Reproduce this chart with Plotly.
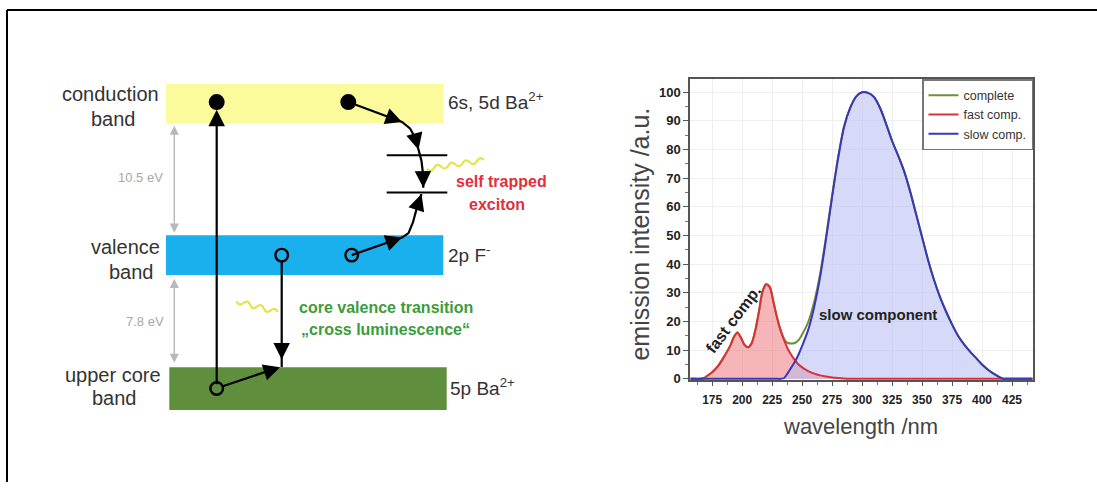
import plotly.graph_objects as go

W, H = 1097, 488

# ---------------- spectrum data ----------------
wavelength = [157, 160, 165, 168, 170, 175, 180, 185, 190, 193, 196, 199, 202, 205, 208,
              211, 214, 217, 220, 223, 226, 229, 232, 235, 238, 241, 244, 247, 250, 255,
              260, 265, 270, 275, 280, 285, 290, 295, 300, 305, 310, 315, 320, 325, 330,
              335, 340, 345, 350, 355, 360, 365, 370, 375, 380, 385, 390, 395, 400, 405,
              410, 415, 418, 420, 425, 430, 435, 442]

fast_comp = [0, 0, 0, 0.2, 0.8, 2.3, 4.5, 7.8, 11.5, 14.5, 16.2, 14.3, 11.8, 11.0, 12.5,
             17.0, 23.5, 30.5, 33.0, 32.0, 27.0, 21.5, 17.0, 13.5, 10.5, 8.3, 6.5, 5.0, 4.0, 2.7,
             1.8, 1.2, 0.8, 0.5, 0.3, 0.15, 0.05, 0, 0, 0, 0, 0, 0, 0, 0,
             0, 0, 0, 0, 0, 0, 0, 0, 0, 0, 0, 0, 0, 0, 0,
             0, 0, 0, 0, 0, 0, 0, 0]

slow_comp = [0, 0, 0, 0, 0, 0, 0, 0, 0, 0, 0, 0, 0, 0, 0,
             0, 0, 0, 0, 0, 0, 0, 0, 0.3, 2.0, 4.0, 6.0, 8.5, 11.5, 17.0,
             25.0, 35.5, 49.0, 63.5, 77.0, 88.0, 94.5, 98.5, 100.0, 99.8, 98.3, 94.5, 89.0, 83.0, 78.0,
             72.5, 65.5, 57.5, 49.5, 41.5, 34.5, 28.5, 23.5, 19.0, 15.0, 12.0, 9.5, 7.3, 5.0, 3.2,
             1.7, 0.5, 0, 0, 0, 0, 0, 0]

complete = [0, 0, 0, 0.2, 0.8, 2.3, 4.5, 7.8, 11.5, 14.5, 16.2, 14.3, 11.8, 11.0, 12.5,
            17.0, 23.5, 30.5, 33.0, 32.0, 27.0, 21.5, 17.0, 13.8, 12.5, 12.3, 12.5, 13.5, 15.5, 19.7,
            26.8, 36.7, 49.8, 64.0, 77.3, 88.15, 94.55, 98.5, 100.0, 99.8, 98.3, 94.5, 89.0, 83.0, 78.0,
            72.5, 65.5, 57.5, 49.5, 41.5, 34.5, 28.5, 23.5, 19.0, 15.0, 12.0, 9.5, 7.3, 5.0, 3.2,
            1.7, 0.5, 0, 0, 0, 0, 0, 0]

x_ticks = [175, 200, 225, 250, 275, 300, 325, 350, 375, 400, 425]
y_ticks = [0, 10, 20, 30, 40, 50, 60, 70, 80, 90, 100]

FONT = "Liberation Sans, Arial, sans-serif"


def fx(x):
    return x / W


def fy(y):
    return 1 - y / H


fig = go.Figure()

# filled areas first, lines on top
fig.add_trace(go.Scatter(x=wavelength, y=fast_comp, mode="lines", fill="tozeroy",
                         fillcolor="rgba(238,110,115,0.5)", line=dict(width=0, shape="spline", smoothing=0.8),
                         showlegend=False, hoverinfo="skip"))
fig.add_trace(go.Scatter(x=wavelength, y=slow_comp, mode="lines", fill="tozeroy",
                         fillcolor="rgba(180,186,240,0.55)", line=dict(width=0, shape="spline", smoothing=0.8),
                         showlegend=False, hoverinfo="skip"))
fig.add_trace(go.Scatter(x=wavelength, y=complete, mode="lines", name="complete",
                         line=dict(color="#6f8f3a", width=2, shape="spline", smoothing=0.8)))
fig.add_trace(go.Scatter(x=wavelength, y=fast_comp, mode="lines", name="fast comp.",
                         line=dict(color="#dc3035", width=2, shape="spline", smoothing=0.8)))
fig.add_trace(go.Scatter(x=wavelength, y=slow_comp, mode="lines", name="slow comp.",
                         line=dict(color="#3838b8", width=2, shape="spline", smoothing=0.8)))

shapes = []
annotations = []

# outer frame: only the top and left edges fall inside the page
shapes.append(dict(type="line", xref="paper", yref="paper", x0=fx(7), x1=fx(7),
                   y0=0, y1=fy(10), line=dict(color="black", width=2)))
shapes.append(dict(type="line", xref="paper", yref="paper", x0=fx(7), x1=1,
                   y0=fy(10), y1=fy(10), line=dict(color="black", width=2)))

# energy bands
shapes.append(dict(type="rect", xref="paper", yref="paper", x0=fx(166), x1=fx(443.3),
                   y0=fy(125), y1=fy(85), line=dict(width=0), fillcolor="#fbfb9c", layer="below"))
shapes.append(dict(type="rect", xref="paper", yref="paper", x0=fx(166), x1=fx(443.3),
                   y0=fy(278.3), y1=fy(238.3), line=dict(width=0), fillcolor="#1ab0ee", layer="below"))
shapes.append(dict(type="rect", xref="paper", yref="paper", x0=fx(169.3), x1=fx(446.7),
                   y0=fy(415), y1=fy(371.7), line=dict(width=0), fillcolor="#5f8f3c", layer="below"))


def line(x0, y0, x1, y1, color="black", width=2.2):
    shapes.append(dict(type="line", xref="paper", yref="paper", x0=fx(x0), y0=fy(y0),
                       x1=fx(x1), y1=fy(y1), line=dict(color=color, width=width)))


def polyline(pts, color="black", width=2.2):
    d = "M " + " L ".join(f"{fx(x)},{fy(y)}" for x, y in pts)
    shapes.append(dict(type="path", xref="paper", yref="paper", path=d,
                       line=dict(color=color, width=width)))


def arrow(tx, ty, hx, hy, color="black", width=2.2, size=1.5, side="end", head=2):
    annotations.append(dict(xref="paper", yref="paper", x=fx(hx), y=fy(hy),
                            ax=tx - hx, ay=ty - hy, text="", showarrow=True,
                            arrowhead=head, arrowsize=size, arrowwidth=width,
                            arrowcolor=color, arrowside=side, startarrowhead=head,
                            startarrowsize=size))


def head_on(p0, p1, **kw):
    dx, dy = p1[0] - p0[0], p1[1] - p0[1]
    n = (dx * dx + dy * dy) ** 0.5
    arrow(p1[0] - 14 * dx / n, p1[1] - 14 * dy / n, p1[0], p1[1], **kw)


def circle(cx, cy, r, filled):
    shapes.append(dict(type="circle", xref="paper", yref="paper",
                       x0=fx(cx - r), x1=fx(cx + r), y0=fy(cy + r), y1=fy(cy - r),
                       line=dict(color="black", width=2.4),
                       fillcolor="black" if filled else "rgba(0,0,0,0)"))


def wave(x0, y0, x1, y1, halves, amp, color="#e4e44a", width=2.2):
    dx, dy = x1 - x0, y1 - y0
    n = (dx * dx + dy * dy) ** 0.5
    px, py = -dy / n, dx / n
    step = 1.0 / halves
    mx, my = x0 + dx * step, y0 + dy * step
    cx = x0 + dx * step / 2 + px * amp * 2
    cy = y0 + dy * step / 2 + py * amp * 2
    d = f"M {fx(x0)},{fy(y0)} Q {fx(cx)},{fy(cy)} {fx(mx)},{fy(my)}"
    for i in range(2, halves + 1):
        d += f" T {fx(x0 + dx * step * i)},{fy(y0 + dy * step * i)}"
    shapes.append(dict(type="path", xref="paper", yref="paper", path=d,
                       line=dict(color=color, width=width)))


# band-gap markers
arrow(174.3, 235.7, 174.3, 127.3, color="#b8b8b8", width=1.4, size=1.3, side="end+start")
arrow(174.3, 367.7, 174.3, 282.3, color="#b8b8b8", width=1.4, size=1.3, side="end+start")

# excitation from core band to conduction band
arrow(216.7, 387, 216.7, 111)
arrow(222, 391, 280, 371.7)
# core valence transition
line(281.7, 265, 281.7, 371.7)
head_on((281.7, 330), (281.7, 364))

# exciton levels
line(386.7, 157.3, 447.3, 157.3, width=2)
line(386.7, 195, 447.3, 195, width=2)

# electron relaxation path
up_path = [(348.3, 103.3), (402, 123.5), (410, 130), (415.5, 140), (418.5, 151.5),
           (421.5, 163), (423, 176), (423.3, 190)]
polyline(up_path)
head_on(up_path[0], up_path[1])
head_on(up_path[3], up_path[4])
head_on(up_path[6], up_path[7])

# hole relaxation path
lo_path = [(351.7, 258.3), (402, 240.5), (408.5, 236), (413, 225), (417, 210), (421.5, 196.5)]
polyline(lo_path)
head_on(lo_path[0], lo_path[1])
head_on(lo_path[4], lo_path[5])

# photons
wave(427, 171, 484, 162, 8, 2.4)
wave(236.5, 305, 277.5, 316, 6, 2.4)

# carriers
circle(216.7, 103.3, 6.8, True)
circle(348.3, 103.3, 6.8, True)
circle(281.7, 258.3, 6.3, False)
circle(351.7, 258.3, 6.3, False)
circle(216.7, 393.3, 6.3, False)


def label(text, x, y, size=20, color="#333333", xanchor="center", bold=False, angle=0):
    annotations.append(dict(xref="paper", yref="paper", x=fx(x), y=fy(y), text=text,
                            showarrow=False, xanchor=xanchor, yanchor="middle", textangle=angle,
                            font=dict(family=FONT, size=size, color=color,
                                      weight="bold" if bold else "normal")))


label("conduction", 110, 95)
label("band", 113.3, 120)
label("valence", 125.8, 250)
label("band", 131.5, 275)
label("upper core", 112.5, 380)
label("band", 114, 403)
label("6s, 5d Ba<sup>2+</sup>", 446, 102, size=19, xanchor="left")
label("2p F<sup>-</sup>", 446, 257, size=19, xanchor="left")
label("5p Ba<sup>2+</sup>", 448, 392, size=19, xanchor="left")
label("10.5 eV", 140.7, 180, size=13, color="#a8a8a8")
label("7.8 eV", 144.5, 325, size=13, color="#a8a8a8")
label("self trapped", 501, 183.3, size=16, color="#e0303c", bold=True)
label("exciton", 497.3, 206.7, size=16, color="#e0303c", bold=True)
label("core valence transition", 385.7, 311.7, size=16, color="#3c9c3c", bold=True)
label("\u201ecross luminescence\u201c", 385.7, 333.3, size=16, color="#3c9c3c", bold=True)

# spectrum annotations
label("fast comp.", 733, 323, size=16, color="#222222", bold=True, angle=-53)
label("slow component", 878, 318, size=15, color="#222222", bold=True)
label("emission intensity /a.u.", 640, 237.5, size=25, color="#444444", angle=-90)
label("wavelength /nm", 860.8, 432, size=22, color="#444444")

fig.update_layout(
    width=W, height=H, autosize=False,
    margin=dict(l=0, r=0, t=0, b=0, pad=0),
    paper_bgcolor="white", plot_bgcolor="white",
    font=dict(family=FONT, color="#333333"),
    shapes=shapes, annotations=annotations,
    showlegend=True,
    legend=dict(x=fx(1033), y=fy(80), xanchor="right", yanchor="top",
                bgcolor="white", bordercolor="#777777", borderwidth=1.5,
                font=dict(family=FONT, size=12.5, color="#333333"),
                itemwidth=30, tracegroupgap=0),
    xaxis=dict(domain=[fx(690), fx(1033)], range=[156.5, 442.5],
               tickmode="array", tickvals=x_ticks, ticktext=[str(v) for v in x_ticks],
               ticks="outside", ticklen=4, tickcolor="#555555", ticklabelstandoff=4,
               minor=dict(ticks="outside", ticklen=2.5, tickcolor="#777777", tickmode="linear",
                          tick0=162.5, dtick=25, showgrid=False),
               tickfont=dict(family=FONT, size=12, color="#222222", weight="bold"),
               showline=True, linecolor="#555555", linewidth=1.5, mirror=True,
               showgrid=True, gridcolor="#efefef", zeroline=False),
    yaxis=dict(domain=[fy(385), fy(79.5)], range=[-0.5, 104.8],
               tickmode="array", tickvals=y_ticks, ticktext=[str(v) for v in y_ticks],
               ticks="outside", ticklen=5, tickcolor="#555555",
               minor=dict(ticks="outside", ticklen=3, tickcolor="#777777", tickmode="linear",
                          tick0=5, dtick=10, showgrid=False),
               tickfont=dict(family=FONT, size=13, color="#222222", weight="bold"),
               showline=True, linecolor="#555555", linewidth=1.5, mirror=True,
               showgrid=True, gridcolor="#efefef", zeroline=False),
)

fig.write_html("out.html")
